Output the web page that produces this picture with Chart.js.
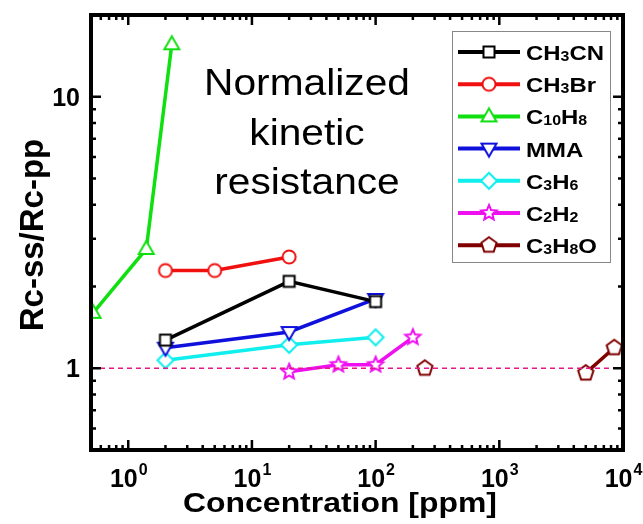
<!DOCTYPE html>
<html>
<head>
<meta charset="utf-8">
<script src="https://cdn.jsdelivr.net/npm/chart.js@4.4.1/dist/chart.umd.min.js"></script>
<style>
  html, body { margin: 0; padding: 0; background: #fff; }
  #wrap { width: 643px; height: 524px; }
</style>
</head>
<body>
<div id="wrap"><canvas id="ratioChart" width="643" height="524"></canvas></div>
<script>
'use strict';

// concentration [ppm] vs Rc-ss/Rc-pp, one pair of arrays per gas
const ch3cnX = [2, 20, 100];
const ch3cnY = [1.27, 2.09, 1.76];
const ch3brX = [2, 5, 20];
const ch3brY = [2.29, 2.29, 2.57];
const c10h8X = [0.52, 1.4, 2.25];
const c10h8Y = [1.6, 2.75, 15.6];
const mmaX = [2, 20, 100];
const mmaY = [1.19, 1.36, 1.8];
const c3h6X = [2, 20, 100];
const c3h6Y = [1.07, 1.22, 1.3];
const c2h2X = [20, 50, 100, 200];
const c2h2Y = [0.97, 1.03, 1.03, 1.3];
const c3h8oX = [250, 5000, 8500];
const c3h8oY = [1.0, 0.96, 1.19];
// segments between consecutive C3H8O points that are joined by a line
const c3h8oJoined = [false, true];

// dashed reference line at ratio = 1
const refX = [0.5, 10000];
const refY = [1, 1];

const gasLabels = ['CH₃CN', 'CH₃Br', 'C₁₀H₈', 'MMA', 'C₃H₆', 'C₂H₂', 'C₃H₈O'];
const xTickValues = [1, 10, 100, 1000, 10000];
const xTickExps = ['0', '1', '2', '3', '4'];
const yTickValues = [1, 10];
const yTickLabels = ['1', '10'];
const noteLines = ['Normalized', 'kinetic', 'resistance'];

const FONT = '"Liberation Sans", Arial, sans-serif';

function pairs(xs, ys) {
    return xs.map(function (x, i) { return {x: x, y: ys[i]}; });
}

// open markers, white inside so the line stops at the edge
function makeMarker(kind, color) {
    const s = 22, m = 11;
    const c = document.createElement('canvas');
    c.width = s; c.height = s;
    const g = c.getContext('2d');
    g.lineWidth = 2;
    g.strokeStyle = color;
    g.fillStyle = '#fff';
    g.beginPath();
    if (kind === 'square') {
        g.rect(m - 5.5, m - 5.5, 11, 11);
    } else if (kind === 'circle') {
        g.arc(m, m, 6.5, 0, Math.PI * 2);
    } else if (kind === 'triangle') {
        g.moveTo(m, m - 8); g.lineTo(m + 7.5, m + 5); g.lineTo(m - 7.5, m + 5); g.closePath();
    } else if (kind === 'triangleDown') {
        g.moveTo(m, m + 8); g.lineTo(m + 7.5, m - 5); g.lineTo(m - 7.5, m - 5); g.closePath();
    } else if (kind === 'diamond') {
        g.moveTo(m, m - 8); g.lineTo(m + 8, m); g.lineTo(m, m + 8); g.lineTo(m - 8, m); g.closePath();
    } else if (kind === 'star') {
        for (let i = 0; i < 10; i++) {
            const r = i % 2 === 0 ? 8 : 3.6;
            const a = -Math.PI / 2 + i * Math.PI / 5;
            if (i === 0) g.moveTo(m + r * Math.cos(a), m + r * Math.sin(a));
            else g.lineTo(m + r * Math.cos(a), m + r * Math.sin(a));
        }
        g.closePath();
    } else if (kind === 'pentagon') {
        for (let i = 0; i < 5; i++) {
            const a = -Math.PI / 2 + i * 2 * Math.PI / 5;
            if (i === 0) g.moveTo(m + 8 * Math.cos(a), m + 8 * Math.sin(a));
            else g.lineTo(m + 8 * Math.cos(a), m + 8 * Math.sin(a));
        }
        g.closePath();
    }
    g.fill();
    g.stroke();
    return c;
}

function gasSet(label, xs, ys, color, kind, joined) {
    const ds = {
        label: label,
        data: pairs(xs, ys),
        borderColor: color,
        backgroundColor: color,
        borderWidth: 3.5,
        pointStyle: makeMarker(kind, color),
        pointRadius: 8,
        tension: 0
    };
    if (joined) {
        ds.segment = {
            borderColor: function (c) { return joined[c.p0DataIndex] ? color : 'rgba(0,0,0,0)'; }
        };
    }
    return ds;
}

const datasets = [
    {
        label: 'ref',
        data: pairs(refX, refY),
        borderColor: '#e8168a',
        borderWidth: 1.5,
        borderDash: [5, 4],
        pointRadius: 0,
        inLegend: false
    },
    gasSet(gasLabels[0], ch3cnX, ch3cnY, '#000000', 'square'),
    gasSet(gasLabels[1], ch3brX, ch3brY, '#f01010', 'circle'),
    gasSet(gasLabels[2], c10h8X, c10h8Y, '#10e010', 'triangle'),
    gasSet(gasLabels[3], mmaX, mmaY, '#1010dd', 'triangleDown'),
    gasSet(gasLabels[4], c3h6X, c3h6Y, '#10eeee', 'diamond'),
    gasSet(gasLabels[5], c2h2X, c2h2Y, '#ee10ee', 'star'),
    gasSet(gasLabels[6], c3h8oX, c3h8oY, '#800000', 'pentagon', c3h8oJoined)
];

function drawText(ctx, text, x, y, font, align, sx) {
    ctx.save();
    ctx.font = font;
    ctx.textAlign = align;
    ctx.textBaseline = 'alphabetic';
    ctx.translate(x, y);
    ctx.scale(sx, 1);
    ctx.fillText(text, 0, 0);
    ctx.restore();
}

// label with subscript digits drawn small
function drawChemLabel(ctx, label, x, y, size, sx) {
    const subs = '₀₁₂₃₄₅₆₇₈₉';
    ctx.save();
    ctx.translate(x, y);
    ctx.scale(sx, 1);
    ctx.textAlign = 'left';
    ctx.textBaseline = 'alphabetic';
    let cx = 0;
    for (const ch of label) {
        const k = subs.indexOf(ch);
        if (k >= 0) {
            ctx.font = 'bold ' + Math.round(size * 0.66) + 'px ' + FONT;
            ctx.fillText(String(k), cx, 1);
            cx += ctx.measureText(String(k)).width;
        } else {
            ctx.font = 'bold ' + size + 'px ' + FONT;
            ctx.fillText(ch, cx, 0);
            cx += ctx.measureText(ch).width;
        }
    }
    ctx.restore();
}

const framePlugin = {
    id: 'frame',
    afterDraw: function (chart) {
        const ctx = chart.ctx;
        const a = chart.chartArea;
        const xs = chart.scales.x, ys = chart.scales.y;
        ctx.save();
        ctx.fillStyle = '#000';
        ctx.strokeStyle = '#000';

        // inward ticks on all four sides
        ctx.lineWidth = 2.5;
        ctx.beginPath();
        for (let d = 0.1; d <= 10000; d *= 10) {
            for (let k = 1; k <= 9; k++) {
                const v = d * k;
                if (v < xs.min || v > xs.max) continue;
                const px = xs.getPixelForValue(v);
                const len = k === 1 ? 10 : 5;
                ctx.moveTo(px, a.bottom); ctx.lineTo(px, a.bottom - len);
                ctx.moveTo(px, a.top); ctx.lineTo(px, a.top + len);
            }
        }
        for (let d = 0.1; d <= 10; d *= 10) {
            for (let k = 1; k <= 9; k++) {
                const v = d * k;
                if (v < ys.min || v > ys.max) continue;
                const py = ys.getPixelForValue(v);
                const len = k === 1 ? 10 : 5;
                ctx.moveTo(a.left, py); ctx.lineTo(a.left + len, py);
                ctx.moveTo(a.right, py); ctx.lineTo(a.right - len, py);
            }
        }
        ctx.stroke();

        ctx.lineWidth = 4;
        ctx.strokeRect(a.left, a.top, a.right - a.left, a.bottom - a.top);

        // x tick labels 10^n
        xTickValues.forEach(function (v, i) {
            const px = xs.getPixelForValue(v);
            ctx.font = 'bold 25px ' + FONT;
            const w1 = ctx.measureText('10').width;
            ctx.font = 'bold 16px ' + FONT;
            const w2 = ctx.measureText(xTickExps[i]).width;
            const x0 = px - (w1 + w2) / 2;
            drawText(ctx, '10', x0, a.bottom + 37, 'bold 25px ' + FONT, 'left', 1);
            drawText(ctx, xTickExps[i], x0 + w1 + 1, a.bottom + 25, 'bold 16px ' + FONT, 'left', 1);
        });

        // y tick labels
        yTickValues.forEach(function (v, i) {
            const py = ys.getPixelForValue(v);
            drawText(ctx, yTickLabels[i], a.left - 11, py + 9, 'bold 25px ' + FONT, 'right', 1);
        });

        // axis titles
        drawText(ctx, 'Concentration [ppm]', 340, 512, 'bold 28px ' + FONT, 'center', 1.14);
        ctx.save();
        ctx.translate(43, 235);
        ctx.rotate(-Math.PI / 2);
        ctx.font = 'bold 33px ' + FONT;
        ctx.textAlign = 'center';
        ctx.fillText('Rc-ss/Rc-pp', 0, 0);
        ctx.restore();

        // annotation
        noteLines.forEach(function (t, i) {
            drawText(ctx, t, 307, 95 + i * 49.5, '37px ' + FONT, 'center', 1.1);
        });

        // legend box
        const lx = 452, ly = 31, lw = 158, lh = 231;
        ctx.lineWidth = 1;
        ctx.strokeStyle = '#888';
        ctx.fillStyle = '#fff';
        ctx.fillRect(lx, ly, lw, lh);
        ctx.strokeRect(lx + 0.5, ly + 0.5, lw, lh);
        let row = 0;
        chart.data.datasets.forEach(function (ds) {
            if (ds.inLegend === false) return;
            const cy = ly + 21 + row * 32.2;
            ctx.strokeStyle = ds.borderColor;
            ctx.lineWidth = 4;
            ctx.beginPath();
            ctx.moveTo(lx + 6, cy);
            ctx.lineTo(lx + 68, cy);
            ctx.stroke();
            const img = ds.pointStyle;
            ctx.drawImage(img, lx + 37 - img.width / 2, cy - img.height / 2);
            ctx.fillStyle = '#000';
            drawChemLabel(ctx, ds.label, lx + 74, cy + 8, 21, 1.14);
            row++;
        });
        ctx.restore();
    }
};

new Chart(document.getElementById('ratioChart'), {
    type: 'line',
    data: { datasets: datasets },
    options: {
        responsive: false,
        animation: false,
        layout: { padding: { left: 91, top: 15, right: 20, bottom: 74 } },
        plugins: { legend: { display: false }, tooltip: { enabled: false } },
        scales: {
            x: { type: 'logarithmic', min: 0.5, max: 10000, display: false },
            y: { type: 'logarithmic', min: 0.5, max: 20, display: false }
        }
    },
    plugins: [framePlugin]
});
</script>
</body>
</html>
